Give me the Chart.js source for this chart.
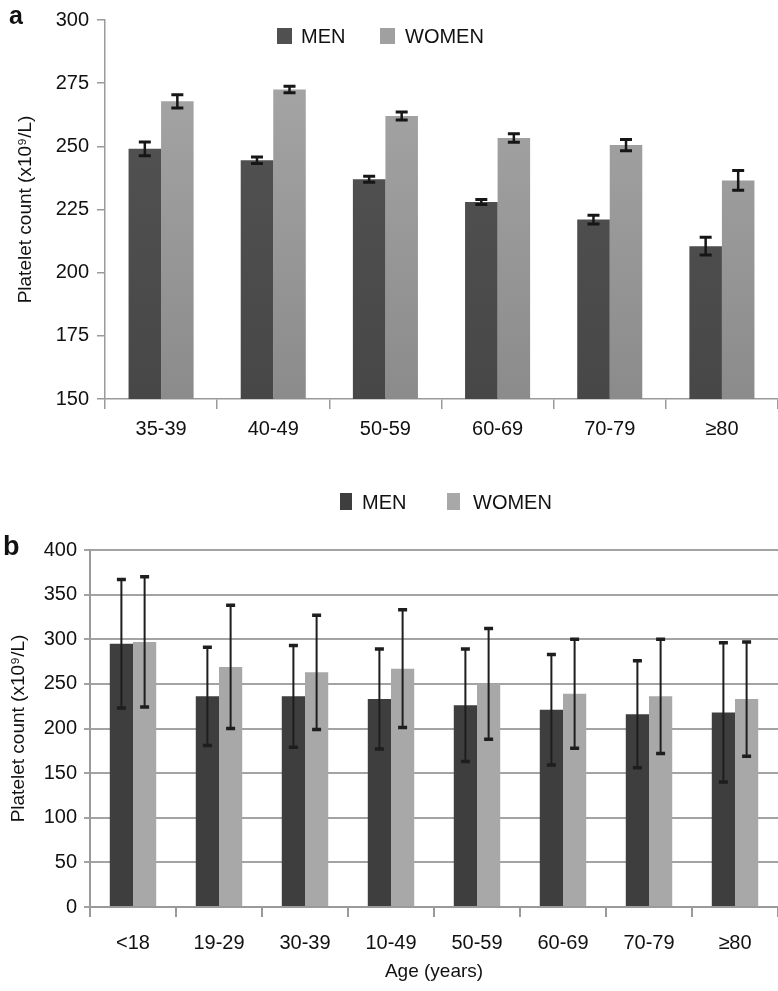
<!DOCTYPE html>
<html>
<head>
<meta charset="utf-8">
<script src="https://cdn.jsdelivr.net/npm/chart.js@4.4.1/dist/chart.umd.min.js"></script>
<style>
  body { margin: 0; background: #fff; font-family: "Liberation Sans", Arial, sans-serif; }
  #page { position: relative; width: 778px; height: 991px; overflow: hidden; }
  .box { position: absolute; left: 0; width: 778px; }
  .panel { position: absolute; font-weight: bold; color: #111; }
  .legend { position: absolute; font-size: 20px; color: #111; white-space: nowrap; }
  .swatch { position: absolute; }
</style>
</head>
<body>
<div id="page">
  <div class="box" style="top:0;height:450px"><canvas id="chartA"></canvas></div>
  <div class="box" style="top:460px;height:531px"><canvas id="chartB"></canvas></div>

  <div class="panel" style="left:9px;top:1px;font-size:25px">a</div>
  <div class="panel" style="left:3px;top:531px;font-size:27px">b</div>

  <div class="swatch" style="left:277px;top:28px;width:15px;height:16px;background:#505050"></div>
  <div class="legend" style="left:301px;top:25px">MEN</div>
  <div class="swatch" style="left:380px;top:28px;width:15px;height:16px;background:#a0a0a0"></div>
  <div class="legend" style="left:405px;top:25px">WOMEN</div>

  <div class="swatch" style="left:340px;top:493px;width:12px;height:17px;background:#3e3e3e"></div>
  <div class="legend" style="left:362px;top:491px">MEN</div>
  <div class="swatch" style="left:447px;top:493px;width:13px;height:17px;background:#a8a8a8"></div>
  <div class="legend" style="left:473px;top:491px">WOMEN</div>
</div>
<script>
// panel a: age groups 35+
const agesA = ['35-39', '40-49', '50-59', '60-69', '70-79', '≥80'];
const menA = [249, 244.5, 237, 228, 221, 210.5];
const menErrA = [2.7, 1.3, 1.2, 1, 1.7, 3.5];
const womenA = [267.8, 272.5, 262, 253.3, 250.5, 236.5];
const womenErrA = [2.6, 1.3, 1.6, 1.7, 2.2, 3.9];

// panel b: all ages
const agesB = ['<18', '19-29', '30-39', '10-49', '50-59', '60-69', '70-79', '≥80'];
const menB = [295, 236, 236, 233, 226, 221, 216, 218];
const menErrB = [72, 55, 57, 56, 63, 62, 60, 78];
const womenB = [297, 269, 263, 267, 250, 239, 236, 233];
const womenErrB = [73, 69, 64, 66, 62, 61, 64, 64];

const FONT = "'Liberation Sans', Arial, sans-serif";
Chart.defaults.font.family = FONT;
Chart.defaults.color = '#111';

// draws mean +/- error whiskers on top of each bar
const errorBars = {
    id: 'errorBars',
    afterDatasetsDraw(chart, args, opts) {
        const {ctx} = chart;
        const yScale = chart.scales.y;
        chart.data.datasets.forEach((ds, i) => {
            const meta = chart.getDatasetMeta(i);
            meta.data.forEach((bar, j) => {
                const v = ds.data[j], e = ds.errors[j];
                const yHi = yScale.getPixelForValue(v + e);
                const yLo = yScale.getPixelForValue(v - e);
                ctx.save();
                ctx.strokeStyle = opts.color;
                ctx.lineWidth = opts.lineWidth;
                ctx.beginPath();
                ctx.moveTo(bar.x, yHi);
                ctx.lineTo(bar.x, yLo);
                ctx.stroke();
                ctx.lineWidth = opts.capWidth;
                ctx.beginPath();
                ctx.moveTo(bar.x - opts.cap, yHi);
                ctx.lineTo(bar.x + opts.cap, yHi);
                ctx.moveTo(bar.x - opts.cap, yLo);
                ctx.lineTo(bar.x + opts.cap, yLo);
                ctx.stroke();
                ctx.restore();
            });
        });
    }
};

const vGradient = (top, bottom) => (c) => {
    const area = c.chart.chartArea;
    if (!area) return top;
    const g = c.chart.ctx.createLinearGradient(0, area.top, 0, area.bottom);
    g.addColorStop(0, top);
    g.addColorStop(1, bottom);
    return g;
};

const yTitle = (pad) => ({
    display: true,
    text: 'Platelet count (x10⁹/L)',
    font: {size: 19},
    color: '#111',
    padding: {top: pad, bottom: 0}
});

new Chart(document.getElementById('chartA'), {
    type: 'bar',
    data: {
        labels: agesA,
        datasets: [
            {label: 'MEN', data: menA, errors: menErrA, backgroundColor: vGradient('#555555', '#474747'), borderWidth: 0},
            {label: 'WOMEN', data: womenA, errors: womenErrA, backgroundColor: vGradient('#a9a9a9', '#8b8b8b'), borderWidth: 0}
        ]
    },
    options: {
        responsive: true,
        maintainAspectRatio: false,
        animation: false,
        layout: {padding: {top: 20, right: 0, left: 0, bottom: 0}},
        datasets: {bar: {categoryPercentage: 0.58, barPercentage: 1}},
        plugins: {
            legend: {display: false},
            tooltip: {enabled: false},
            errorBars: {color: '#161616', lineWidth: 2.5, capWidth: 3, cap: 6}
        },
        scales: {
            x: {
                afterFit: (s) => { s.height = 51; },
                grid: {drawOnChartArea: false, tickLength: 10, color: '#9a9a9a', lineWidth: 1.5},
                border: {color: '#9a9a9a', width: 1.5},
                ticks: {font: {size: 20}, color: '#111', padding: 8}
            },
            y: {
                min: 150, max: 300,
                afterFit: (s) => { s.width = 105; },
                grid: {drawOnChartArea: false, tickLength: 8, color: '#9a9a9a', lineWidth: 1.5},
                border: {color: '#9a9a9a', width: 1.5},
                ticks: {stepSize: 25, font: {size: 20}, color: '#111', padding: 8},
                title: yTitle(14)
            }
        }
    },
    plugins: [errorBars]
});

new Chart(document.getElementById('chartB'), {
    type: 'bar',
    data: {
        labels: agesB,
        datasets: [
            {label: 'MEN', data: menB, errors: menErrB, backgroundColor: '#3e3e3e', borderWidth: 0},
            {label: 'WOMEN', data: womenB, errors: womenErrB, backgroundColor: '#a8a8a8', borderWidth: 0}
        ]
    },
    options: {
        responsive: true,
        maintainAspectRatio: false,
        animation: false,
        layout: {padding: {top: 90, right: 0, left: 0, bottom: 0}},
        datasets: {bar: {categoryPercentage: 0.54, barPercentage: 1}},
        plugins: {
            legend: {display: false},
            tooltip: {enabled: false},
            errorBars: {color: '#1e1e1e', lineWidth: 2, capWidth: 3.5, cap: 4.5}
        },
        scales: {
            x: {
                afterFit: (s) => { s.height = 84; },
                grid: {drawOnChartArea: false, tickLength: 10, color: '#9a9a9a', lineWidth: 2},
                border: {color: '#9a9a9a', width: 2},
                ticks: {font: {size: 20}, color: '#111', padding: 14},
                title: {display: true, text: 'Age (years)', font: {size: 19}, color: '#111', padding: {top: 0, bottom: 8}}
            },
            y: {
                min: 0, max: 400,
                afterFit: (s) => { s.width = 90; },
                grid: {color: '#a3a3a3', lineWidth: 2, tickLength: 6},
                border: {color: '#9a9a9a', width: 2},
                ticks: {stepSize: 50, font: {size: 20}, color: '#111', padding: 7},
                title: yTitle(7)
            }
        }
    },
    plugins: [errorBars]
});
</script>
</body>
</html>
